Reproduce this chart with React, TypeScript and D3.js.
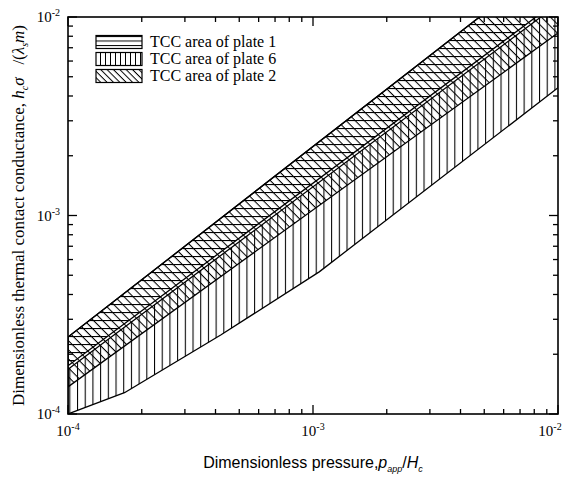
import { useEffect, useRef } from 'react';
import * as d3 from 'd3';

// dimensionless pressure at the ends of the straight band edges
const bandPressure = [1e-4, 1e-2];
// plate 1 (horizontal hatch)
const plate1Upper = [2.44e-4, 2.03e-2];
const plate1Lower = [1.75e-4, 1.21e-2];
// plate 2 (diagonal hatch)
const plate2Upper = [2.44e-4, 2.03e-2];
const plate2Lower = [1.37e-4, 8.3e-3];
// plate 6 (vertical hatch)
const plate6Upper = [1.68e-4, 1.16e-2];
const plate6LowerPressure = [1e-4, 1.7e-4, 4.2e-4, 1.06e-3, 1e-2];
const plate6Lower = [1e-4, 1.28e-4, 2.5e-4, 5.2e-4, 4.4e-3];

const decadeTicks = [1e-4, 1e-3, 1e-2];
const decadeExponents = ['-4', '-3', '-2'];
const legendLabels = ['TCC area of plate 1', 'TCC area of plate 6', 'TCC area of plate 2'];
const legendPatterns = ['lg-horiz', 'lg-vert', 'lg-diag'];

const W = 569;
const H = 477;
const SERIF = "'Liberation Serif', 'Times New Roman', Times, 'DejaVu Serif', serif";
const SANS = "'Liberation Sans', Arial, Helvetica, sans-serif";

export default function App() {
  const svgRef = useRef<SVGSVGElement>(null);

  useEffect(() => {
    document.body.style.margin = '0';
    if (!svgRef.current) return;
    const svg = d3.select(svgRef.current);
    svg.selectAll('*').remove();

    const left = 68, right = 558, top = 17, bottom = 414;

    const x = d3.scaleLog().domain([1e-4, 1e-2]).range([left, right]);
    const y = d3.scaleLog().domain([1e-4, 1e-2]).range([bottom, top]);

    const defs = svg.append('defs');

    function hatch(id: string, size: number, kind: 'h' | 'v' | 'd', sw: number) {
      const p = defs.append('pattern')
        .attr('id', id)
        .attr('patternUnits', 'userSpaceOnUse')
        .attr('width', size)
        .attr('height', size);
      if (kind === 'd') p.attr('patternTransform', 'rotate(45)');
      const ln = p.append('line').attr('stroke', '#000').attr('stroke-width', sw);
      if (kind === 'v') ln.attr('x1', 0.5).attr('x2', 0.5).attr('y1', 0).attr('y2', size);
      else ln.attr('x1', 0).attr('x2', size).attr('y1', 0.5).attr('y2', 0.5);
    }
    hatch('pl-horiz', 8, 'h', 1.2);
    hatch('pl-vert', 7.7, 'v', 1.1);
    hatch('pl-diag', 6.4, 'd', 1.1);
    hatch('lg-horiz', 4.5, 'h', 1);
    hatch('lg-vert', 5, 'v', 1);
    hatch('lg-diag', 4.5, 'd', 1);

    defs.append('clipPath').attr('id', 'plot-clip')
      .append('rect')
      .attr('x', left).attr('y', top)
      .attr('width', right - left).attr('height', bottom - top);

    const line = d3.line<[number, number]>()
      .x(d => x(d[0]))
      .y(d => y(d[1]));

    function band(upperP: number[], upper: number[], lowerP: number[], lower: number[]) {
      const up = upperP.map((p, i) => [p, upper[i]] as [number, number]);
      const lo = lowerP.map((p, i) => [p, lower[i]] as [number, number]).reverse();
      return line([...up, ...lo]) + 'Z';
    }

    const plot = svg.append('g').attr('clip-path', 'url(#plot-clip)');

    const bands = [
      { d: band(bandPressure, plate6Upper, plate6LowerPressure, plate6Lower), fill: 'pl-vert' },
      { d: band(bandPressure, plate2Upper, bandPressure, plate2Lower), fill: 'pl-diag' },
      { d: band(bandPressure, plate1Upper, bandPressure, plate1Lower), fill: 'pl-horiz' },
    ];

    bands.forEach(b => {
      plot.append('path')
        .attr('d', b.d)
        .attr('fill', `url(#${b.fill})`)
        .attr('stroke', 'none');
    });
    bands.forEach(b => {
      plot.append('path')
        .attr('d', b.d)
        .attr('fill', 'none')
        .attr('stroke', '#000')
        .attr('stroke-width', 1.3)
        .attr('stroke-linejoin', 'round');
    });

    // ticks, inward, on all four sides
    const minor: number[] = [];
    [1e-4, 1e-3].forEach(dec => {
      for (let k = 2; k <= 9; k++) minor.push(dec * k);
    });
    const axes = svg.append('g').attr('stroke', '#000').attr('stroke-width', 1.3);
    decadeTicks.forEach(v => {
      axes.append('line').attr('x1', x(v)).attr('x2', x(v)).attr('y1', bottom).attr('y2', bottom - 9);
      axes.append('line').attr('x1', x(v)).attr('x2', x(v)).attr('y1', top).attr('y2', top + 9);
      axes.append('line').attr('y1', y(v)).attr('y2', y(v)).attr('x1', left).attr('x2', left + 9);
      axes.append('line').attr('y1', y(v)).attr('y2', y(v)).attr('x1', right).attr('x2', right - 9);
    });
    minor.forEach(v => {
      axes.append('line').attr('x1', x(v)).attr('x2', x(v)).attr('y1', bottom).attr('y2', bottom - 5);
      axes.append('line').attr('x1', x(v)).attr('x2', x(v)).attr('y1', top).attr('y2', top + 5);
      axes.append('line').attr('y1', y(v)).attr('y2', y(v)).attr('x1', left).attr('x2', left + 5);
      axes.append('line').attr('y1', y(v)).attr('y2', y(v)).attr('x1', right).attr('x2', right - 5);
    });

    svg.append('rect')
      .attr('x', left).attr('y', top)
      .attr('width', right - left).attr('height', bottom - top)
      .attr('fill', 'none')
      .attr('stroke', '#000')
      .attr('stroke-width', 1.6);

    // tick labels
    decadeTicks.forEach((v, i) => {
      const tx = svg.append('text')
        .attr('x', i === 2 ? x(v) - 8 : x(v))
        .attr('y', bottom + 22)
        .attr('text-anchor', 'middle')
        .style('font-family', SERIF)
        .style('font-size', '15px')
        .attr('fill', '#000');
      tx.append('tspan').text('10');
      tx.append('tspan').attr('dy', -6).style('font-size', '10px').text(decadeExponents[i]);

      const ty = svg.append('text')
        .attr('x', left - 8)
        .attr('y', y(v) + 5)
        .attr('text-anchor', 'end')
        .style('font-family', SERIF)
        .style('font-size', '15px')
        .attr('fill', '#000');
      ty.append('tspan').text('10');
      ty.append('tspan').attr('dy', -6).style('font-size', '10px').text(decadeExponents[i]);
    });

    // x axis title
    const xt = svg.append('text')
      .attr('x', (left + right) / 2)
      .attr('y', 468)
      .attr('text-anchor', 'middle')
      .style('font-family', SANS)
      .style('font-size', '16px')
      .attr('fill', '#000');
    xt.append('tspan').text('Dimensionless pressure,');
    xt.append('tspan').style('font-style', 'italic').text('p');
    xt.append('tspan').attr('dy', 4).style('font-size', '9px').style('font-style', 'italic').text('app');
    xt.append('tspan').attr('dy', -4).text('/');
    xt.append('tspan').style('font-style', 'italic').text('H');
    xt.append('tspan').attr('dy', 4).style('font-size', '9px').style('font-style', 'italic').text('c');

    // y axis title
    const yt = svg.append('text')
      .attr('transform', `translate(24, ${(top + bottom) / 2}) rotate(-90)`)
      .attr('text-anchor', 'middle')
      .style('font-family', SERIF)
      .style('font-size', '17px')
      .attr('fill', '#000');
    yt.append('tspan').text('Dimensionless thermal contact conductance, ');
    yt.append('tspan').style('font-style', 'italic').text('h');
    yt.append('tspan').attr('dy', 4).style('font-size', '10px').style('font-style', 'italic').text('c');
    yt.append('tspan').attr('dy', -4).style('font-style', 'italic').text('σ');
    yt.append('tspan').text('\u00a0\u00a0\u00a0/(');
    yt.append('tspan').style('font-style', 'italic').text('λ');
    yt.append('tspan').attr('dy', 4).style('font-size', '10px').style('font-style', 'italic').text('s');
    yt.append('tspan').attr('dy', -4).style('font-style', 'italic').text('m');
    yt.append('tspan').text(')');

    // legend
    const lg = svg.append('g');
    legendLabels.forEach((label, i) => {
      const cy = 42 + i * 17;
      lg.append('rect')
        .attr('x', 96).attr('y', cy - 6.5)
        .attr('width', 46).attr('height', 13)
        .attr('fill', `url(#${legendPatterns[i]})`)
        .attr('stroke', '#000')
        .attr('stroke-width', 1.2);
      lg.append('text')
        .attr('x', 150)
        .attr('y', cy + 5)
        .style('font-family', SERIF)
        .style('font-size', '16px')
        .attr('fill', '#000')
        .text(label);
    });
  }, []);

  return <svg ref={svgRef} width={W} height={H} style={{ display: 'block', background: '#fff' }} />;
}
